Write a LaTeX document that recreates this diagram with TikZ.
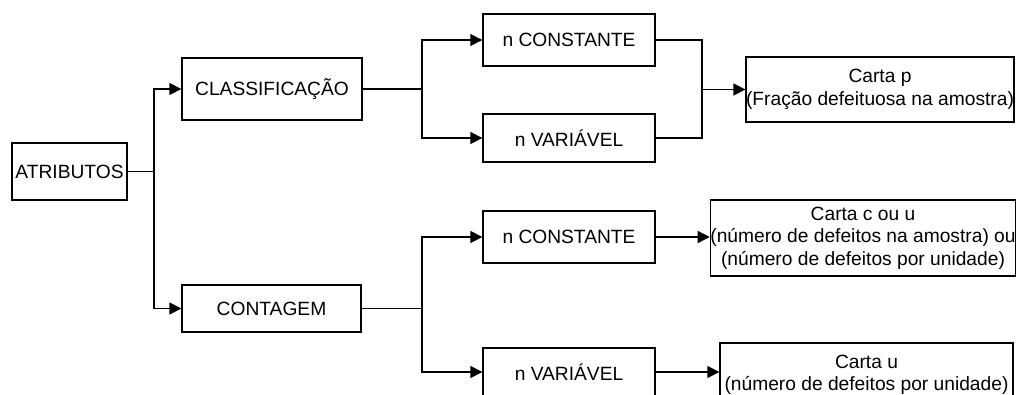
\documentclass[tikz,border=0pt]{standalone}
\usepackage{fontspec}
\setmainfont{Liberation Sans}
\usetikzlibrary{arrows.meta}
\begin{document}
\begin{tikzpicture}[x=1pt,y=-1pt,
  box/.style={draw, line width=1.3pt, inner sep=0pt, align=center,
    font=\fontsize{19.2}{22.5}\selectfont},
  conn/.style={line width=1.3pt},
  arr/.style={line width=1.3pt, -{Triangle[length=12pt,width=12pt]}}]
\clip (0,0) rectangle (1016,394);
\fill[white] (0,0) rectangle (1016,394);
% nodes
\node[box, minimum width=115pt, minimum height=57pt] (atr) at (69.5,171.5) {ATRIBUTOS};
\node[box, minimum width=180pt, minimum height=62pt] (cla) at (272,89) {CLASSIFICAÇÃO};
\node[box, minimum width=179pt, minimum height=47pt] (con) at (271.5,308.5) {CONTAGEM};
\node[box, minimum width=172pt, minimum height=52pt] (nc1) at (569,40) {n CONSTANTE};
\node[box, minimum width=172pt, minimum height=48pt] (nv1) at (569,138) {n VARIÁVEL};
\node[box, minimum width=264pt, minimum height=65pt] (cp) at (880,89.5) {Carta p\\(Fração defeituosa na amostra)};
\node[box, minimum width=172pt, minimum height=52pt] (nc2) at (569,237) {n CONSTANTE};
\node[box, minimum width=304pt, minimum height=76pt] (cc) at (863,238) {Carta c ou u\\(número de defeitos na amostra) ou\\(número de defeitos por unidade)};
\node[box, minimum width=172pt, minimum height=48pt] (nv2) at (569,372) {n VARIÁVEL};
\node[box, minimum width=293pt, minimum height=64pt] (cu) at (866.5,375) {Carta u\\(número de defeitos por unidade)};
% junctions
\coordinate (j1) at (154,171.5);
\coordinate (j2) at (422,89);
\coordinate (j3) at (702,89.5);
\coordinate (j4) at (422,308.5);
% connectors
\draw[conn] (atr.east) -- (j1);
\draw[arr] (j1) |- (cla.west);
\draw[arr] (j1) |- (con.west);
\draw[conn] (cla.east) -- (j2);
\draw[arr] (j2) |- (nc1.west);
\draw[arr] (j2) |- (nv1.west);
\draw[conn] (nc1.east) -| (j3);
\draw[conn] (nv1.east) -| (j3);
\draw[arr] (j3) -- (cp.west);
\draw[conn] (con.east) -- (j4);
\draw[arr] (j4) |- (nc2.west);
\draw[arr] (j4) |- (nv2.west);
\draw[arr] (nc2.east) -- (nc2.east -| cc.west);
\draw[arr] (nv2.east) -- (nv2.east -| cu.west);
\end{tikzpicture}
\end{document}
